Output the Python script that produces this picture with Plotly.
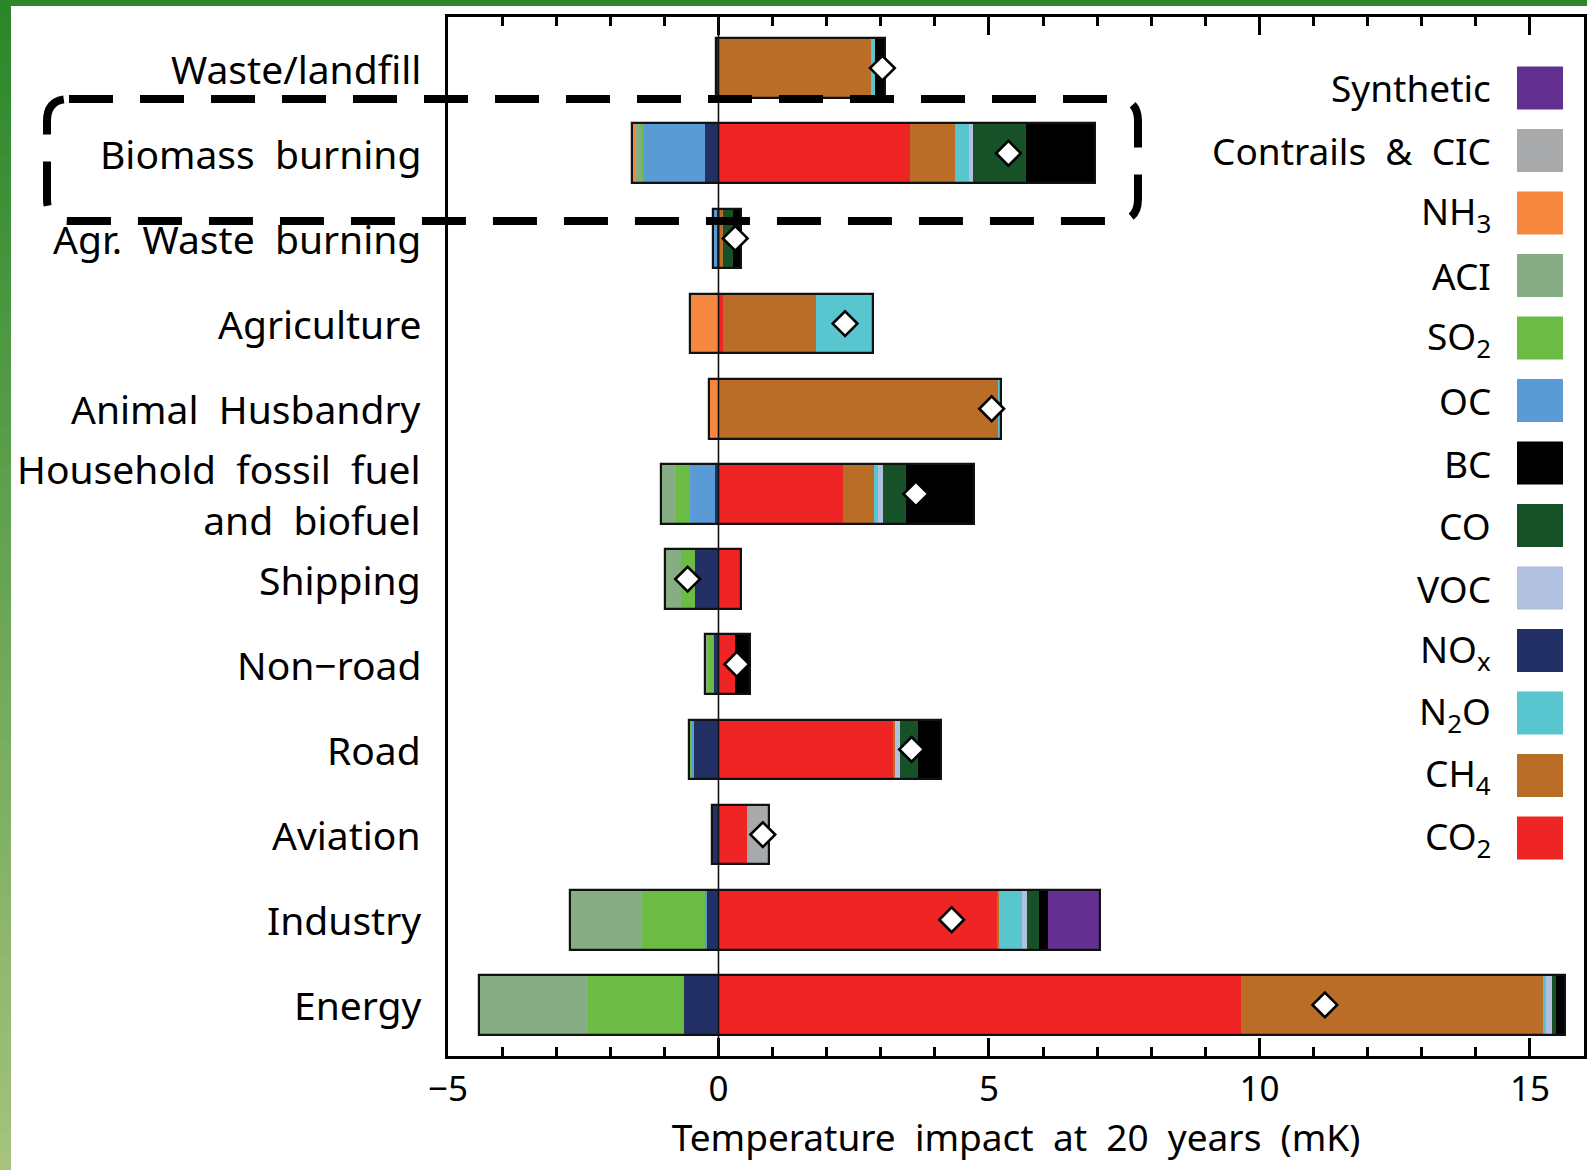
import plotly.graph_objects as go
import numpy as np

# ---------------- data (top row first) ----------------
NB = "\u00a0"
categories = ["Waste/landfill", f"Biomass{NB} burning", f"Agr.{NB} Waste{NB} burning", "Agriculture",
              f"Animal{NB} Husbandry", f"Household{NB} fossil{NB} fuel<br>and{NB} biofuel", "Shipping",
              "Non\u2212road", "Road", "Aviation", "Industry", "Energy"]

species = ["CO2", "CH4", "N2O", "NOx", "VOC", "CO", "BC", "OC", "SO2", "ACI", "NH3", "Contrails", "Synthetic"]
species_labels = ["CO<sub>2</sub>", "CH<sub>4</sub>", "N<sub>2</sub>O", "NO<sub>x</sub>", "VOC", "CO", "BC", "OC",
                  "SO<sub>2</sub>", "ACI", "NH<sub>3</sub>", f"Contrails{NB} &{NB} CIC", "Synthetic"]
species_colors = ["#EE2524", "#BA6D27", "#59C5CF", "#233066", "#B2C0DF", "#175128", "#000000", "#5A9AD5",
                  "#6BBB45", "#86AD84", "#F5873F", "#A7A9AA", "#633092"]

CO2 =       [0.00, 3.54, 0.02, 0.08, 0.00, 2.31, 0.42, 0.30, 3.23, 0.52, 5.16, 9.65]
CH4 =       [2.82, 0.83, 0.07, 1.73, 5.16, 0.57, 0.00, 0.00, 0.04, 0.00, 0.02, 5.61]
N2O =       [0.08, 0.26, 0.00, 1.05, 0.06, 0.06, 0.00, 0.00, 0.00, 0.00, 0.44, 0.03]
NOx =       [-0.04, -0.25, -0.03, 0.00, 0.00, -0.07, -0.43, -0.09, -0.46, -0.12, -0.21, -0.63]
VOC =       [0.00, 0.08, 0.00, 0.00, 0.00, 0.11, 0.00, 0.00, 0.08, 0.00, 0.08, 0.11]
CO =        [0.00, 0.98, 0.18, 0.00, 0.00, 0.42, 0.00, 0.00, 0.34, 0.00, 0.23, 0.09]
BC =        [0.17, 1.27, 0.15, 0.00, 0.00, 1.25, 0.00, 0.28, 0.43, 0.00, 0.16, 0.15]
OC =        [0.00, -1.12, -0.08, 0.00, 0.00, -0.46, 0.00, -0.02, -0.04, 0.00, -0.04, 0.00]
SO2 =       [0.00, -0.06, 0.00, 0.00, 0.00, -0.25, -0.26, -0.10, -0.03, 0.00, -1.17, -1.78]
ACI =       [0.00, -0.09, 0.00, 0.00, 0.00, -0.29, -0.30, -0.03, -0.02, 0.00, -1.32, -2.02]
NH3 =       [0.00, -0.08, 0.00, -0.52, -0.17, 0.00, 0.00, 0.00, 0.00, 0.00, 0.00, 0.00]
Contrails = [0.00, 0.00, 0.00, 0.00, 0.00, 0.00, 0.00, 0.00, 0.00, 0.42, 0.00, 0.00]
Synthetic = [0.00, 0.00, 0.00, 0.00, 0.00, 0.00, 0.00, 0.00, 0.00, 0.00, 0.96, 0.00]

series = [CO2, CH4, N2O, NOx, VOC, CO, BC, OC, SO2, ACI, NH3, Contrails, Synthetic]

x_ticks = [-5, 0, 5, 10, 15]
x_title = f"Temperature{NB} impact{NB} at{NB} 20{NB} years{NB} (mK)"

# ---------------- geometry (pixels) ----------------
W, H = 1587, 1170
L, R, T, B = 448, 1584, 17, 1056
FONT = "Noto Sans"


def px(xp):
    return (xp - L) / (R - L)


def py(yp):
    return (B - yp) / (B - T)


fig = go.Figure()

pos_cum = np.zeros(len(categories))
neg_cum = np.zeros(len(categories))
for name, vals, col in zip(species, series, species_colors):
    v = np.array(vals, dtype=float)
    base = np.where(v >= 0, pos_cum, neg_cum)
    fig.add_trace(go.Bar(
        y=categories, x=v, base=base, orientation="h", width=0.7,
        marker=dict(color=col, line=dict(width=0)), name=name, showlegend=False,
        hoverinfo="skip"))
    pos_cum += np.clip(v, 0, None)
    neg_cum += np.clip(v, None, 0)

# outline around each whole bar
fig.add_trace(go.Bar(
    y=categories, x=pos_cum - neg_cum, base=neg_cum, orientation="h", width=0.7,
    marker=dict(color="rgba(0,0,0,0)", line=dict(color="#111111", width=2.2)),
    showlegend=False, hoverinfo="skip"))

net = pos_cum + neg_cum
fig.add_trace(go.Scatter(
    y=categories, x=net, mode="markers",
    marker=dict(symbol="diamond", size=19, color="white", line=dict(color="black", width=2.6)),
    showlegend=False, hoverinfo="skip"))

shapes = []
annotations = []

# category labels (right-aligned)
for cat in categories:
    annotations.append(dict(xref="paper", yref="y", x=px(423), y=cat, text=cat,
                            xanchor="right", yanchor="middle", align="right", showarrow=False,
                            font=dict(family=FONT, size=39, color="black")))

# zero line
shapes.append(dict(type="line", xref="x", yref="paper", x0=0, x1=0, y0=0, y1=1,
                   line=dict(color="#111111", width=1.6), layer="above"))

# green decorative frame
n = 60
c0 = np.array([43, 135, 43])
c1 = np.array([165, 195, 125])
for i in range(n):
    t = i / (n - 1)
    c = (c0 + (c1 - c0) * t).astype(int)
    shapes.append(dict(type="rect", xref="paper", yref="paper",
                       x0=px(0), x1=px(11), y0=py(H * i / n), y1=py(H * (i + 1) / n + 1),
                       fillcolor=f"rgb({c[0]},{c[1]},{c[2]})", line=dict(width=0), layer="above"))
shapes.append(dict(type="rect", xref="paper", yref="paper", x0=px(0), x1=px(W), y0=py(0), y1=py(6),
                   fillcolor="rgb(44,134,42)", line=dict(width=0), layer="above"))

# dashed rounded box around Biomass burning
bx0, bx1, by0, by1, r = 47, 1138, 99, 221, 22
pts = [("M", bx0 + r, by0), ("L", bx1 - r, by0), ("Q", bx1, by0, bx1, by0 + r), ("L", bx1, by1 - r),
       ("Q", bx1, by1, bx1 - r, by1), ("L", bx0 + r, by1), ("Q", bx0, by1, bx0, by1 - r),
       ("L", bx0, by0 + r), ("Q", bx0, by0, bx0 + r, by0)]
path = ""
for p in pts:
    cmd = p[0]
    coords = p[1:]
    segs = []
    for j in range(0, len(coords), 2):
        segs.append(f"{px(coords[j]):.5f},{py(coords[j + 1]):.5f}")
    path += cmd + " " + " ".join(segs) + " "
shapes.append(dict(type="path", xref="paper", yref="paper", path=path.strip() + " Z",
                   line=dict(color="black", width=8, dash="44px,27px"), layer="above"))

# custom legend (text left, swatch right)
for k, (lab, col) in enumerate(zip(species_labels[::-1], species_colors[::-1])):
    cy = 88 + k * 62.5
    shapes.append(dict(type="rect", xref="paper", yref="paper", x0=px(1517), x1=px(1563),
                       y0=py(cy - 21.5), y1=py(cy + 21.5), fillcolor=col, line=dict(width=0), layer="above"))
    annotations.append(dict(xref="paper", yref="paper", x=px(1493), y=py(cy), text=lab,
                            xanchor="right", yanchor="middle", showarrow=False,
                            font=dict(family=FONT, size=37, color="black")))

fig.update_layout(
    width=W, height=H, barmode="overlay", bargap=0,
    margin=dict(l=L, r=W - R, t=T, b=H - B, pad=0, autoexpand=False),
    paper_bgcolor="white", plot_bgcolor="white",
    font=dict(family=FONT, size=35, color="black"),
    shapes=shapes, annotations=annotations,
    xaxis=dict(range=[-5, 16], tickvals=x_ticks, ticks="inside", ticklen=18, tickwidth=3,
               tickcolor="black", showline=True, linewidth=3, linecolor="black", mirror="allticks",
               showgrid=False, zeroline=False, tickfont=dict(family=FONT, size=35), automargin=False,
               minor=dict(dtick=1, ticks="inside", ticklen=9, tickwidth=3, tickcolor="black", showgrid=False),
               title=dict(text=x_title, font=dict(family=FONT, size=37), standoff=4)),
    yaxis=dict(type="category", categoryorder="array", categoryarray=categories, range=[11.6, -0.6],
               showline=True, linewidth=3, linecolor="black", mirror=True, ticks="", showgrid=False,
               zeroline=False, showticklabels=False, automargin=False),
)

fig.write_html("out.html", config={"displayModeBar": False},
               post_script="document.body.style.margin='0px';document.body.style.overflow='hidden';")
